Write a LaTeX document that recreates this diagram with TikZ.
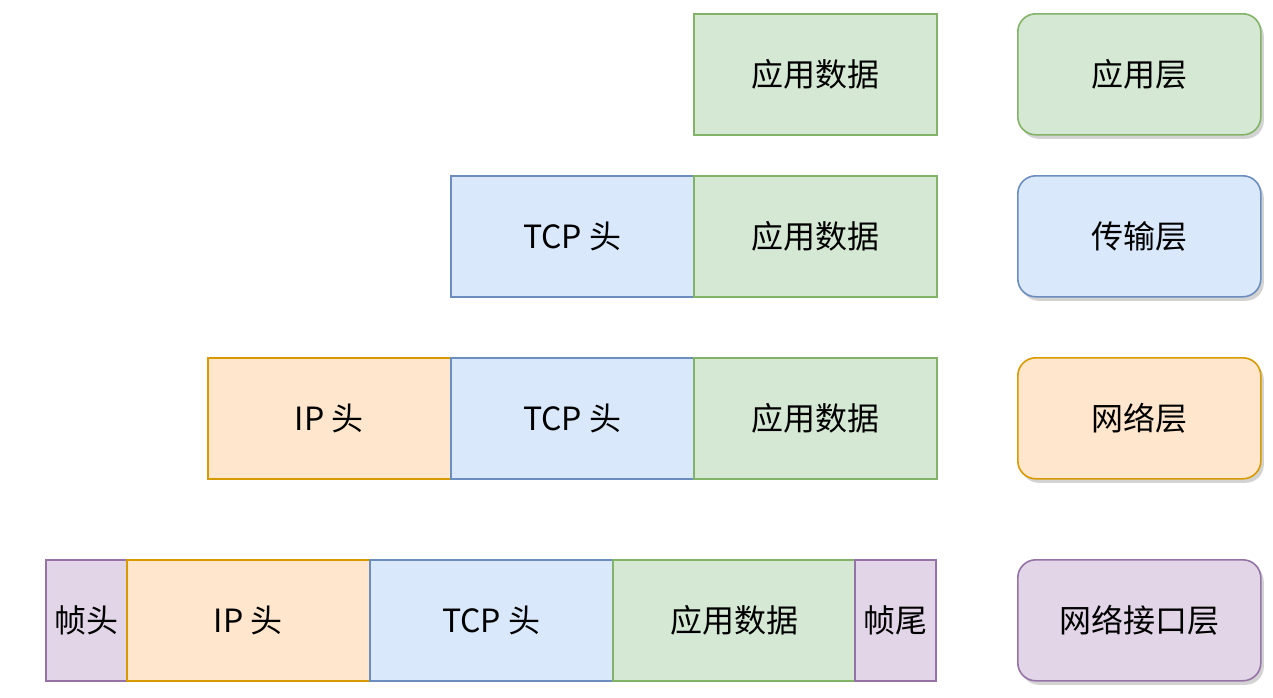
\documentclass[tikz,border=0pt]{standalone}
\usepackage{fontspec}
\setmainfont{Noto Sans CJK SC}
\usetikzlibrary{shadows}

\definecolor{appfill}{HTML}{D5E8D4}
\definecolor{appline}{HTML}{82B366}
\definecolor{tcpfill}{HTML}{DAE8FC}
\definecolor{tcpline}{HTML}{6C8EBF}
\definecolor{ipfill}{HTML}{FFE6CC}
\definecolor{ipline}{HTML}{D79B00}
\definecolor{frmfill}{HTML}{E1D5E7}
\definecolor{frmline}{HTML}{9673A6}

\tikzset{
  cell/.style={draw, line width=1.6pt, anchor=north west, inner sep=0pt,
    minimum height=121pt, font=\fontsize{32}{38}\selectfont},
  wide/.style={cell, minimum width=243pt},
  narrow/.style={cell, minimum width=81pt},
  layer/.style={wide, rounded corners=18pt,
    drop shadow={shadow xshift=3pt, shadow yshift=-4pt, opacity=0.35}},
  app/.style={fill=appfill, draw=appline},
  tcp/.style={fill=tcpfill, draw=tcpline},
  ip/.style={fill=ipfill, draw=ipline},
  frm/.style={fill=frmfill, draw=frmline},
}

\begin{document}
\begin{tikzpicture}[x=1pt, y=-1pt]
        \useasboundingbox (0,0) rectangle (1273,697);

        % application layer
        \node [wide, app] (data1) at (693,13) {应用数据};

        % transport layer
        \node [wide, tcp] (tcp2) at (450,175) {TCP 头};
        \node [wide, app] (data2) at (693,175) {应用数据};

        % network layer
        \node [wide, ip] (ip3) at (207,357) {IP 头};
        \node [wide, tcp] (tcp3) at (450,357) {TCP 头};
        \node [wide, app] (data3) at (693,357) {应用数据};

        % link layer
        \node [narrow, frm] (head4) at (45,559) {帧头};
        \node [wide, ip] (ip4) at (126,559) {IP 头};
        \node [wide, tcp] (tcp4) at (369,559) {TCP 头};
        \node [wide, app] (data4) at (612,559) {应用数据};
        \node [narrow, frm] (tail4) at (854,559) {帧尾};

        % layer names
        \node [layer, app] (L1) at (1017,13) {应用层};
        \node [layer, tcp] (L2) at (1017,175) {传输层};
        \node [layer, ip] (L3) at (1017,357) {网络层};
        \node [layer, frm] (L4) at (1017,559) {网络接口层};
    \end{tikzpicture}
\end{document}
